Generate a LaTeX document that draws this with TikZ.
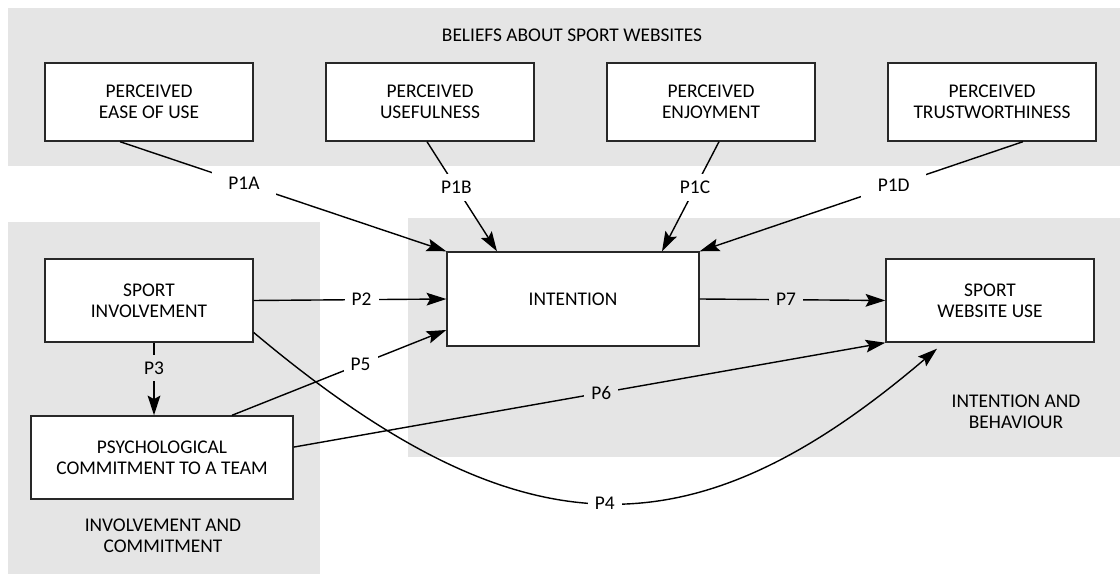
\documentclass[tikz,border=0pt]{standalone}
\usepackage{fontspec}
\setmainfont{Carlito}
\usetikzlibrary{arrows.meta}
\definecolor{bandgray}{RGB}{229,229,229}
\definecolor{linegray}{RGB}{40,40,40}

\begin{document}
\begin{tikzpicture}[
    font=\fontsize{13.8}{15}\selectfont,
    band/.style={fill=bandgray},
    box/.style={draw=linegray,line width=1pt,fill=white,align=center,
      minimum width=5.2cm,minimum height=2.075cm,inner sep=0pt},
    conn/.style={-{Stealth[length=14pt,width=9pt,inset=2.5pt]},line width=1pt},
    lbl/.style={fill=white,inner sep=5pt},
    lblg/.style={lbl,fill=bandgray}]
    \useasboundingbox (0,0) rectangle (28,14.35);

    % shaded groups
    \fill[band] (0.2,10.2) rectangle (28,14.15);
    \fill[band] (0.2,0) rectangle (8,8.8);
    \fill[band] (10.2,2.925) rectangle (28,8.9);

    \node (beliefs) at (14.3,13.475) {BELIEFS ABOUT SPORT WEBSITES};
    \node (invcom) at (4.075,0.95) [align=center] {INVOLVEMENT AND\\COMMITMENT};
    \node (intbeh) at (25.4,4.05) [align=center] {INTENTION AND\\BEHAVIOUR};

    \node (peu) at (3.725,11.8) [box,minimum height=1.95cm] {PERCEIVED\\EASE OF USE};
    \node (pu) at (10.75,11.8) [box,minimum height=1.95cm] {PERCEIVED\\USEFULNESS};
    \node (pe) at (17.775,11.8) [box,minimum height=1.95cm] {PERCEIVED\\ENJOYMENT};
    \node (pt) at (24.8,11.8) [box,minimum height=1.95cm] {PERCEIVED\\TRUSTWORTHINESS};

    \node (si) at (3.725,6.8375) [box] {SPORT\\INVOLVEMENT};
    \node (int) at (14.325,6.875) [box,minimum width=6.3cm,minimum height=2.35cm] {INTENTION};
    \node (swu) at (24.75,6.8375) [box] {SPORT\\WEBSITE USE};
    \node (psy) at (4.05,2.9125) [box,minimum width=6.55cm] {PSYCHOLOGICAL\\COMMITMENT TO A TEAM};

    \draw[conn] ([xshift=-0.725cm]peu.south) -- (int.north west) node[pos=0.38,lbl,inner xsep=12pt] {P1A};
    \draw[conn] ([xshift=-0.075cm]pu.south) -- ([xshift=-1.9cm]int.north) node[pos=0.42,lbl] {P1B};
    \draw[conn] ([xshift=0.2cm]pe.south) -- ([xshift=2.225cm]int.north) node[pos=0.42,lbl] {P1C};
    \draw[conn] ([xshift=0.775cm]pt.south) -- (int.north east) node[pos=0.4,lbl,inner xsep=12pt] {P1D};

    \draw[conn] (si.east) -- (int.west) node[pos=0.56,lbl] {P2};
    \draw[conn] ([xshift=0.125cm]si.south) -- ([xshift=0.125cm]si.south |- psy.north) node[pos=0.35,lblg] {P3};
    \draw[conn] ([yshift=-0.8cm]si.east) .. controls (13.05,0.4) and (17.35,0.45) .. ([xshift=-1.325cm,yshift=-0.15cm]swu.south) node[pos=0.5,lbl] {P4};
    \draw[conn] ([xshift=1.75cm]psy.north) -- ([yshift=-0.775cm]int.west) node[pos=0.6,lbl] {P5};
    \draw[conn] ([yshift=0.26cm]psy.east) -- (swu.south west) node[pos=0.52,lblg] {P6};
    \draw[conn] (int.east) -- (swu.west) node[pos=0.465,lblg] {P7};
\end{tikzpicture}
\end{document}
